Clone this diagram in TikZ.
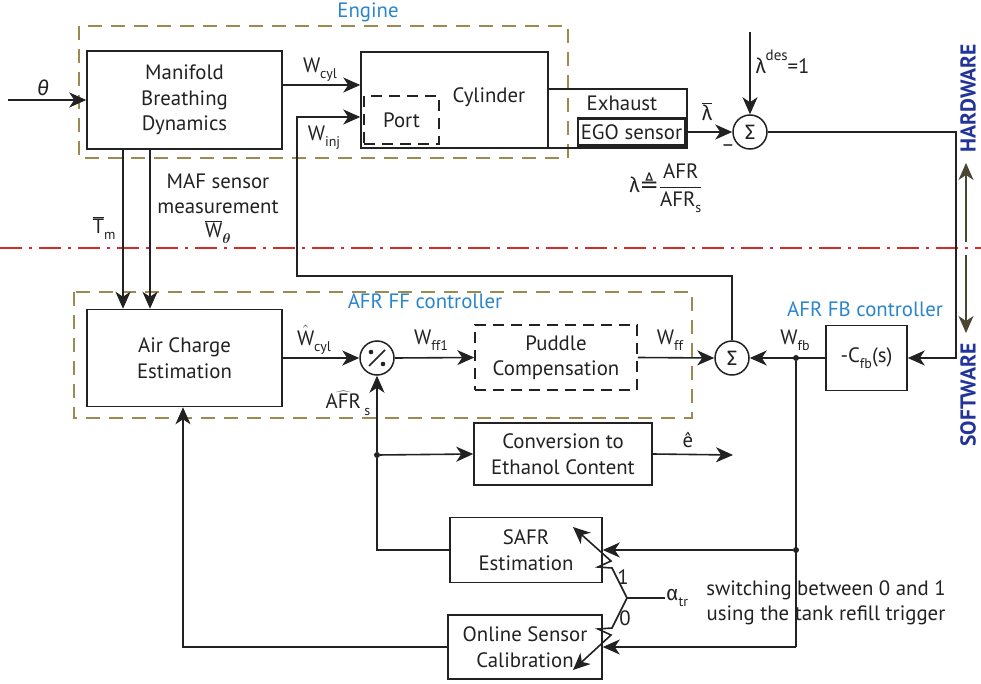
\RequirePackage{fix-cm}
\documentclass[tikz,border=0pt]{standalone}
\usepackage{fontspec}
\setmainfont{PT Sans}
\newfontfamily\grk{Fira Sans}
\newfontfamily\djv{DejaVu Sans}
\usetikzlibrary{arrows.meta}
\definecolor{engcol}{HTML}{9C8A50}
\definecolor{labblue}{HTML}{2A86CC}
\definecolor{hwblue}{HTML}{22339A}
\definecolor{redline}{HTML}{D42A2A}
\definecolor{brn}{HTML}{4A4535}
\definecolor{ink}{HTML}{222222}
\newcommand\lowsub[1]{\raisebox{-0.3em}{\fontsize{14}{14}\selectfont #1}}
\begin{document}
\begin{tikzpicture}[x=1pt,y=-1pt,
  every node/.style={font=\fontsize{20.8}{25.5}\selectfont, text=ink},
  box/.style={draw=ink, line width=1.5pt, inner sep=0pt, align=center},
  dbox/.style={box, dash pattern=on 11pt off 7pt},
  grp/.style={draw=engcol, line width=1.5pt, dash pattern=on 14pt off 9pt},
  reddd/.style={draw=redline, line width=1.5pt, dash pattern=on 22pt off 7pt on 3pt off 7pt},
  sumc/.style={circle, draw=ink, line width=1.5pt, minimum size=34pt, inner sep=0pt},
  ln/.style={draw=ink, line width=1.6pt},
  arr/.style={draw=ink, line width=1.6pt, -{Stealth[length=17pt,width=15pt,inset=5pt]}},
  blu/.style={text=labblue},
  jdot/.style={circle, fill=ink, inner sep=0pt, minimum size=6pt}
]
\useasboundingbox (0,0) rectangle (981,684);
% groups and separator
\draw[grp] (79,26) rectangle (568,158);
\draw[grp] (74,292) rectangle (692,418);
\draw[reddd] (0,248) -- (981,248);
\node[blu] (englab) at (368,12) {Engine};
\node[blu] (fflab) at (425,301) {AFR FF controller};
\node[blu] (fblab) at (865,309) {AFR FB controller};

% blocks
\node[box, minimum width=195pt, minimum height=98pt] (manifold) at (184.5,100) {Manifold\\Breathing\\Dynamics};
\node[box, minimum width=187pt, minimum height=96pt] (cyl) at (454.5,100) {};
\node (cyltxt) at (489,97) {Cylinder};
\node[dbox, minimum width=75pt, minimum height=48pt] (port) at (401.5,120) {Port};
\node[box, minimum width=139pt, minimum height=59pt] (exh) at (617.5,118.5) {};
\node (exhtxt) at (622,103) {Exhaust};
\node[box, line width=2.2pt, minimum width=107pt, minimum height=27pt] (ego) at (631.5,132) {EGO sensor};
\node[sumc] (sum1) at (750,132) {{\grk Σ}};
\node[sumc] (sum2) at (732,358) {{\grk Σ}};
\node[box, minimum width=81pt, minimum height=65pt] (cfb) at (866.5,358) {-C\lowsub{fb}(s)};
\node[box, minimum width=195pt, minimum height=97pt] (air) at (184.5,358) {Air Charge\\Estimation};
\node[sumc] (div) at (377,358) {};
\draw[ln] (div.center) ++(-8,8) -- ++(16,-16);
\fill[ink] (div.center) ++(-6,-6) circle (2.3);
\fill[ink] (div.center) ++(6,6) circle (2.3);
\node[dbox, minimum width=162pt, minimum height=65pt] (puddle) at (556,357.5) {Puddle\\Compensation};
\node[box, minimum width=178pt, minimum height=62pt] (conv) at (563,454) {Conversion to\\Ethanol Content};
\node[box, minimum width=152pt, minimum height=65pt] (safr) at (526,550) {SAFR\\Estimation};
\node[box, minimum width=154pt, minimum height=64pt] (osc) at (525,647) {Online Sensor\\Calibration};

% coordinates
\coordinate (thin) at (8,100);
\coordinate (ldes) at (750,32);
\coordinate (ehat) at (733,455);
\node[jdot] (jfb) at (796,358) {};
\node[jdot] (jfb2) at (796,550) {};
\node[jdot] (jafr) at (377,455) {};
\coordinate (piv) at (627,598);
\coordinate (aend) at (665,598);

% connectors top
\draw[arr] (thin) -- (manifold.west);
\node (thlab) at (43,88) {{\grk\itshape θ}};
\draw[arr] (manifold.east |- 0,85) -- (cyl.west |- 0,85);
\node (wcyl) at (320,70) {W\lowsub{cyl}};
\draw[arr] (sum2.north) |- (297,276) |- (cyl.west |- 0,117);
\node (winj) at (324,138) {W\lowsub{inj}};
\draw[arr] (ego.east) -- (sum1.west);
\node (lbar) at (707,112) {$\overline{\hbox{\grk λ}}$};
\node (minus) at (728,148) {–};
\draw[arr] (ldes) -- (sum1.north);
\node[anchor=west] (ldeslab) at (752,62) {{\grk λ}\raisebox{0.65em}{\fontsize{15}{15}\selectfont des}=1};
\node (lamdef) at (666,188) {{\grk λ}{\djv\fontsize{23}{23}\selectfont ≜}$\displaystyle\frac{\hbox{AFR}}{\hbox{AFR\lowsub{s}}}$};
\draw[arr] (sum1.east) -| (956,358) -- (cfb.east);

% manifold to air charge
\draw[arr] (manifold.south -| 123,0) -- (air.north -| 123,0);
\draw[arr] (manifold.south -| 150,0) -- (air.north -| 150,0);
\node (tm) at (104,228) {$\overline{\hbox{T}}$\lowsub{m}};
\node (maf1) at (218,181) {MAF sensor};
\node (maf2) at (218,207) {measurement};
\node (wth) at (218,232) {$\overline{\hbox{W}}$\raisebox{-0.3em}{\fontsize{14}{14}\selectfont\boldmath$\theta$}};

% ff path
\draw[arr] (air.east) -- (div.west);
\node (whcyl) at (314,340) {$\hat{\hbox{W}}$\lowsub{cyl}};
\draw[arr] (div.east) -- (puddle.west);
\node (wff1) at (431,340) {W\lowsub{ff1}};
\draw[arr] (puddle.east) -- (sum2.west);
\node (wff) at (670,340) {W\lowsub{ff}};
\draw[arr] (cfb.west) -- (sum2.east);
\node (wfb) at (795,340) {W\lowsub{fb}};
\node (afrs) at (348,403) {$\widehat{\hbox{AFR}}$\,\lowsub{s}};

% estimation branch
\draw[arr] (jafr) -- (div.south);
\draw[arr] (jafr) -- (conv.west);
\draw[ln] (safr.west) -| (jafr);
\draw[arr] (conv.east) -- (ehat);
\node (ehlab) at (688,440) {ê};
\draw[ln] (jfb) -- (796,647);
\draw[arr] (jfb2) -- (safr.east);
\draw[arr] (796,647) -- (osc.east);
\draw[arr] (osc.west) -| (air.south -| 183,0);

% switch
\draw[arr] (piv) -- (612,568) -- (598,567) -- (611,561) -- (573,527);
\draw[arr] (piv) -- (612,628) -- (598,629) -- (611,635) -- (573,670);
\draw[ln] (piv) -- (aend);
\node[anchor=west, inner sep=1pt] (alpha) at (aend) {{\grk α}\lowsub{tr}};
\node (one) at (623,577) {1};
\node (zero) at (625,618) {0};
\node (sw1) at (826,590) {switching between 0 and 1};
\node (sw2) at (826,615) {using the tank refill trigger};

% hardware / software
\node[rotate=90, inner sep=0pt, font=\bfseries\fontsize{21.5}{21.5}\selectfont, text=hwblue] (hw) at (968,98) {HARDWARE};
\node[rotate=90, inner sep=0pt, font=\bfseries\fontsize{21.5}{21.5}\selectfont, text=hwblue] (sw) at (968,395) {SOFTWARE};
\coordinate (hwa) at (966,242);
\coordinate (hwb) at (966,163);
\coordinate (swa) at (966,255);
\coordinate (swb) at (966,333);
\draw[arr, draw=brn] (hwa) -- (hwb);
\draw[arr, draw=brn] (swa) -- (swb);
\end{tikzpicture}
\end{document}
